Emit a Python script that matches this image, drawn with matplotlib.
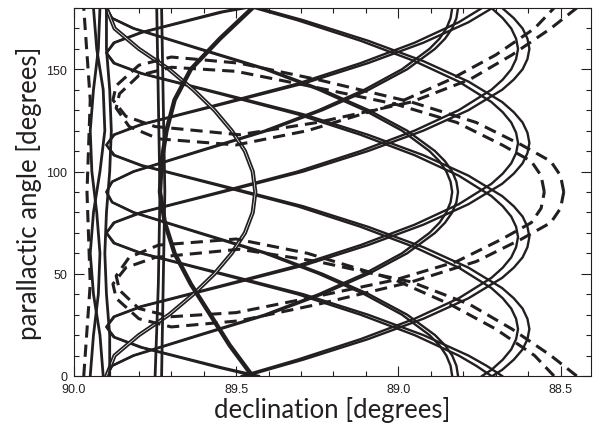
import numpy as np
import matplotlib.pyplot as plt
from matplotlib.ticker import MultipleLocator

# tracks: parallactic angle [deg] and distance from the pole [deg] (declination = 90 - offset)
# each big track is drawn twice (two nearly identical passes)
ang_b1 = [0, 5, 10, 20, 30, 40, 50, 60, 65, 70, 75, 80, 90, 100, 110, 120, 130, 140, 145, 150, 155, 160,
          165, 170, 175, 180]
off_b1 = [1.320, 1.272, 1.216, 1.077, 0.906, 0.707, 0.460, 0.210, 0.125, 0.100, 0.125, 0.210, 0.460, 0.707,
          0.906, 1.077, 1.216, 1.320, 1.356, 1.383, 1.398, 1.404, 1.398, 1.383, 1.356, 1.320]
off_b1c = [1.287, 1.240, 1.186, 1.050, 0.883, 0.689, 0.449, 0.205, 0.122, 0.100, 0.122, 0.205, 0.449, 0.689,
           0.883, 1.050, 1.186, 1.287, 1.322, 1.348, 1.363, 1.369, 1.363, 1.348, 1.322, 1.287]

ang_b2 = [0, 4, 14, 19, 24, 29, 34, 44, 54, 64, 74, 84, 94, 99, 104, 109, 114, 119, 124, 129, 134, 144,
          154, 164, 174, 180]
off_b2 = [0.570, 0.460, 0.210, 0.125, 0.100, 0.125, 0.210, 0.460, 0.707, 0.906, 1.077, 1.216, 1.320, 1.356,
          1.383, 1.398, 1.404, 1.398, 1.383, 1.356, 1.320, 1.216, 1.077, 0.906, 0.707, 0.570]
off_b2c = [0.556, 0.449, 0.205, 0.122, 0.100, 0.122, 0.205, 0.449, 0.689, 0.883, 1.050, 1.186, 1.287, 1.322,
           1.348, 1.363, 1.369, 1.363, 1.348, 1.322, 1.287, 1.186, 1.050, 0.883, 0.689, 0.556]

ang_b3 = [0, 8, 18, 28, 38, 48, 53, 58, 63, 68, 73, 78, 83, 88, 98, 108, 118, 128, 138, 148, 153, 158,
          163, 168, 178, 180]
off_b3 = [0.530, 0.707, 0.906, 1.077, 1.216, 1.320, 1.356, 1.383, 1.398, 1.404, 1.398, 1.383, 1.356, 1.320,
          1.216, 1.077, 0.906, 0.707, 0.460, 0.210, 0.125, 0.100, 0.125, 0.210, 0.460, 0.530]
off_b3c = [0.517, 0.689, 0.883, 1.050, 1.186, 1.287, 1.322, 1.348, 1.363, 1.369, 1.363, 1.348, 1.322, 1.287,
           1.186, 1.050, 0.883, 0.689, 0.449, 0.205, 0.122, 0.100, 0.122, 0.205, 0.449, 0.517]

ang_b4 = [0, 3, 8, 13, 18, 23, 28, 33, 38, 43, 53, 63, 73, 83, 93, 103, 108, 113, 118, 123, 133, 143,
          153, 163, 173, 180]
off_b4 = [1.290, 1.320, 1.356, 1.383, 1.398, 1.404, 1.398, 1.383, 1.356, 1.320, 1.216, 1.077, 0.906, 0.707,
          0.460, 0.210, 0.125, 0.100, 0.125, 0.210, 0.460, 0.707, 0.906, 1.077, 1.216, 1.290]
off_b4c = [1.258, 1.287, 1.322, 1.348, 1.363, 1.369, 1.363, 1.348, 1.322, 1.287, 1.186, 1.050, 0.883, 0.689,
           0.449, 0.205, 0.122, 0.100, 0.122, 0.205, 0.449, 0.689, 0.883, 1.050, 1.186, 1.258]

ang_m1 = [0, 5, 10, 15, 20, 30, 40, 50, 60, 70, 80, 85, 90, 95, 100, 110, 120, 130, 140, 150, 160, 165,
          170, 175, 180]
off_m1 = [1.184, 1.179, 1.166, 1.144, 1.113, 1.027, 0.909, 0.766, 0.598, 0.390, 0.185, 0.118, 0.100, 0.118,
          0.185, 0.390, 0.598, 0.766, 0.909, 1.027, 1.113, 1.144, 1.166, 1.179, 1.184]
off_m1c = [1.166, 1.161, 1.148, 1.127, 1.096, 1.011, 0.895, 0.754, 0.588, 0.383, 0.182, 0.117, 0.100, 0.117,
           0.182, 0.383, 0.588, 0.754, 0.895, 1.011, 1.096, 1.127, 1.148, 1.161, 1.166]

ang_m2 = [0, 5, 10, 20, 30, 40, 50, 60, 70, 75, 80, 85, 90, 95, 100, 105, 110, 120, 130, 140, 150, 160,
          170, 175, 180]
off_m2 = [0.100, 0.118, 0.185, 0.390, 0.598, 0.766, 0.909, 1.027, 1.113, 1.144, 1.166, 1.179, 1.184, 1.179,
          1.166, 1.144, 1.113, 1.027, 0.909, 0.766, 0.598, 0.390, 0.185, 0.118, 0.100]
off_m2c = [0.100, 0.117, 0.182, 0.383, 0.588, 0.754, 0.895, 1.011, 1.096, 1.127, 1.148, 1.161, 1.166, 1.161,
           1.148, 1.127, 1.096, 1.011, 0.895, 0.754, 0.588, 0.383, 0.182, 0.117, 0.100]

ang_s1 = [0, 10, 20, 30, 40, 50, 60, 70, 80, 90, 100, 110, 120, 130, 140, 150, 160, 170, 180]
off_s1 = [0.100, 0.125, 0.200, 0.293, 0.368, 0.433, 0.486, 0.527, 0.551, 0.559, 0.551, 0.527, 0.486,
          0.433, 0.368, 0.293, 0.200, 0.125, 0.100]

ang_arc = [0, 15, 30, 45, 60, 75, 90, 105, 120, 135, 150, 165, 180]
off_arc = [0.55, 0.48, 0.42, 0.36, 0.31, 0.28, 0.265, 0.27, 0.285, 0.31, 0.36, 0.45, 0.55]

ang_v = [0, 45, 90, 135, 180]
off_v1 = [0.25, 0.26, 0.265, 0.26, 0.255]
off_v2 = [0.27, 0.275, 0.28, 0.275, 0.27]

ang_braid = [0, 20, 40, 60, 80, 100, 120, 140, 160, 180]
off_l1 = [0.05, 0.06, 0.075, 0.08, 0.07, 0.055, 0.05, 0.06, 0.075, 0.08]
off_l2 = [0.09, 0.08, 0.06, 0.05, 0.06, 0.08, 0.095, 0.09, 0.07, 0.06]
off_l3 = [0.11, 0.11, 0.10, 0.095, 0.10, 0.11, 0.115, 0.11, 0.10, 0.10]

# dashed tracks
ang_dpole = [0, 45, 90, 135, 180]
off_dpole = [0.03, 0.05, 0.04, 0.05, 0.03]

da_upper_ang = [90, 98, 105, 113, 124, 134, 145, 153, 156, 152, 142, 135, 127, 122, 118, 124, 134, 145, 157,
                170, 180]
da_upper_off = [1.51, 1.50, 1.47, 1.38, 1.24, 1.04, 0.75, 0.51, 0.30, 0.20, 0.13, 0.12, 0.16, 0.25, 0.51,
                0.75, 1.04, 1.22, 1.35, 1.47, 1.55]
da_lower_ang = [0, 10, 23, 35, 46, 56, 62, 58, 53, 45, 38, 28, 24, 27, 35, 46, 56, 67, 75, 82, 90]
da_lower_off = [1.55, 1.47, 1.35, 1.22, 1.04, 0.75, 0.51, 0.25, 0.16, 0.12, 0.13, 0.20, 0.30, 0.51, 0.75,
                1.04, 1.24, 1.38, 1.47, 1.50, 1.51]

db_upper_ang = [90, 98, 105, 113, 124, 133, 142, 149, 151, 147, 138, 131, 122, 116, 113, 120, 133, 145, 157,
                170, 180]
db_upper_off = [1.45, 1.44, 1.41, 1.32, 1.18, 0.99, 0.72, 0.50, 0.30, 0.20, 0.14, 0.13, 0.17, 0.26, 0.50,
                0.72, 0.99, 1.16, 1.30, 1.42, 1.48]
db_lower_ang = [0, 10, 23, 35, 47, 60, 67, 64, 58, 49, 42, 33, 29, 31, 38, 47, 56, 67, 75, 82, 90]
db_lower_off = [1.48, 1.42, 1.30, 1.16, 0.99, 0.72, 0.50, 0.26, 0.17, 0.13, 0.14, 0.20, 0.30, 0.50, 0.72,
                0.99, 1.18, 1.32, 1.41, 1.44, 1.45]

ink = '#231f20'


def dec(off):
    return 90.0 - np.array(off)


fig = plt.figure(figsize=(5.95, 4.27), dpi=100)
ax = fig.add_axes([0.1244, 0.1171, 0.8689, 0.8619])

# doubled solid tracks
pairs = [(ang_b1, off_b1, off_b1c), (ang_b2, off_b2, off_b2c), (ang_b3, off_b3, off_b3c),
         (ang_b4, off_b4, off_b4c), (ang_m1, off_m1, off_m1c), (ang_m2, off_m2, off_m2c)]
for ang, off, offc in pairs:
    ax.plot(dec(off), ang, color=ink, lw=1.7, zorder=2)
    ax.plot(dec(offc), ang, color=ink, lw=1.7, zorder=2)

ax.plot(dec(off_s1), ang_s1, color=ink, lw=3.0, zorder=2)
ax.plot(dec(off_s1), ang_s1, color='white', lw=0.5, zorder=2)
ax.plot(dec(off_arc), ang_arc, color=ink, lw=3.2, zorder=2)
for off in [off_v1, off_v2, off_l1, off_l2, off_l3]:
    a = ang_v if len(off) == len(ang_v) else ang_braid
    ax.plot(dec(off), a, color=ink, lw=2.0, zorder=2)

# dashed tracks
for ang, off in [(da_upper_ang, da_upper_off), (da_lower_ang, da_lower_off),
                 (db_upper_ang, db_upper_off), (db_lower_ang, db_lower_off), (ang_dpole, off_dpole)]:
    ax.plot(dec(off), ang, color=ink, lw=2.2, dashes=(4, 2.3), zorder=3)

ax.set_xlim(90.0, 88.406)
ax.set_ylim(0, 180)
ax.xaxis.set_major_locator(MultipleLocator(0.5))
ax.xaxis.set_minor_locator(MultipleLocator(0.1))
ax.yaxis.set_major_locator(MultipleLocator(50))
ax.yaxis.set_minor_locator(MultipleLocator(10))
ax.xaxis.set_major_formatter(plt.FormatStrFormatter('%.1f'))
ax.tick_params(which='both', direction='in', top=True, right=True, width=0.8, color=ink,
               labelsize=9, labelcolor=ink, pad=5)
ax.tick_params(which='major', length=7)
ax.tick_params(which='minor', length=3.5)
for lab in ax.get_xticklabels() + ax.get_yticklabels():
    lab.set_family('Liberation Sans')
for sp in ax.spines.values():
    sp.set_linewidth(0.8)
    sp.set_color(ink)

ax.set_xlabel('declination [degrees]', fontsize=18.5, family='Lato', color=ink, labelpad=1)
ax.set_ylabel('parallactic angle [degrees]', fontsize=18.5, family='Lato', color=ink, labelpad=3)

plt.savefig('out.png', dpi=100)
